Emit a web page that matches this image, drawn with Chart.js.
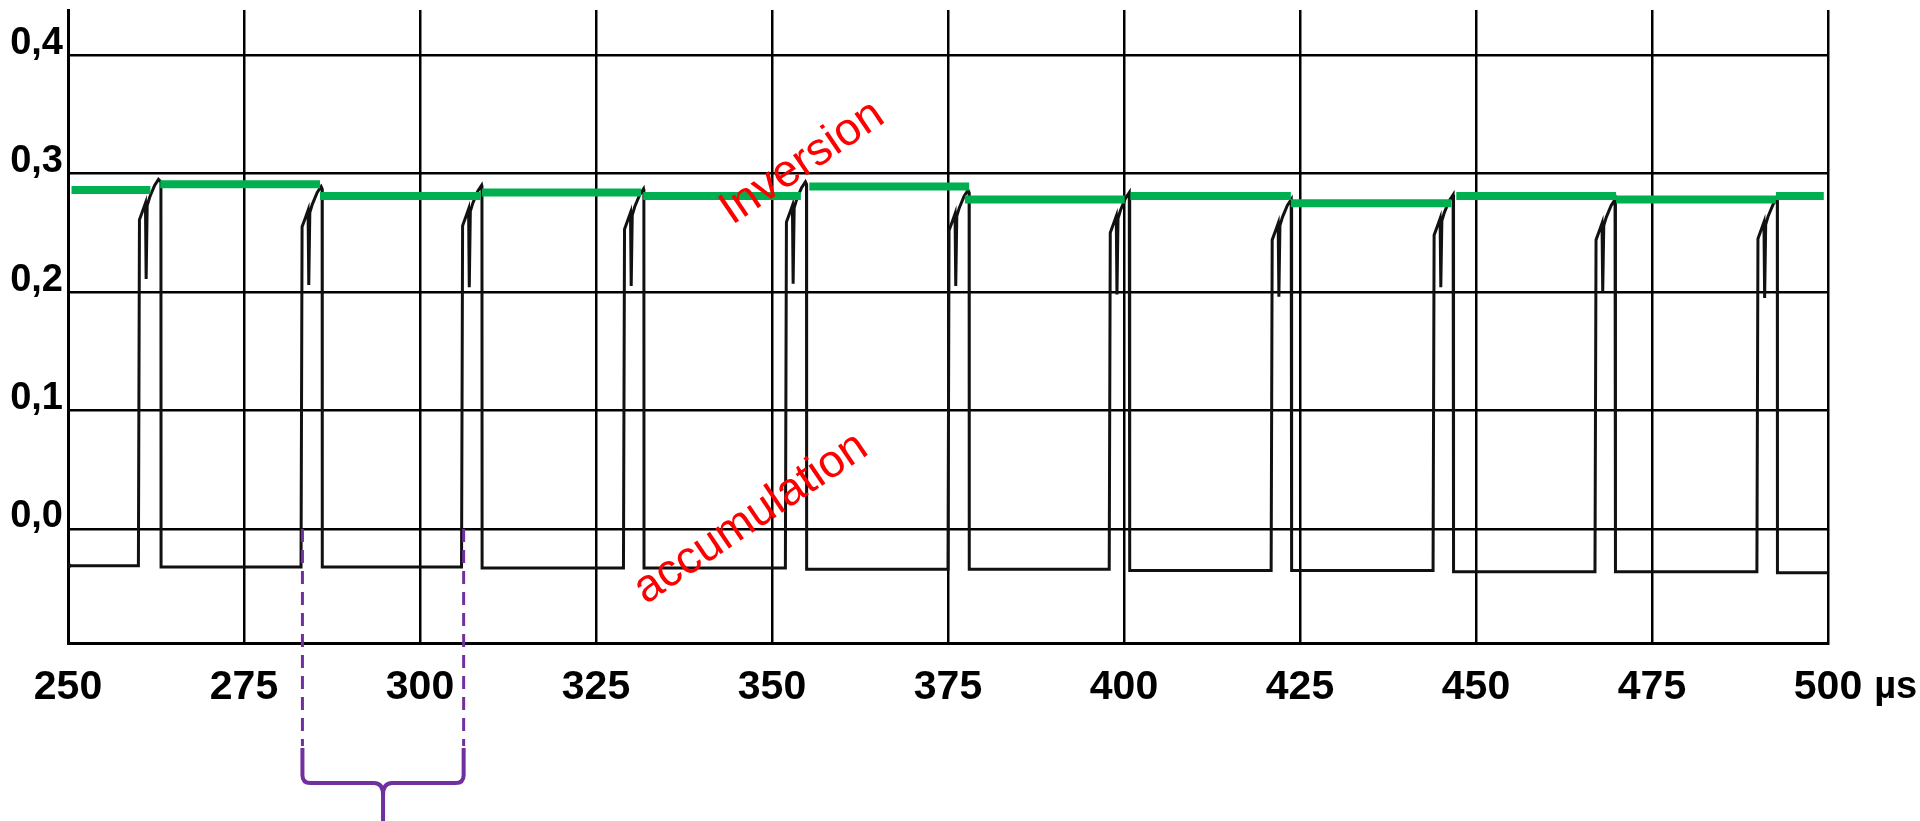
<!DOCTYPE html>
<html>
<head>
<meta charset="utf-8">
<script src="https://cdn.jsdelivr.net/npm/chart.js@4.4.0/dist/chart.umd.min.js"></script>
<style>
  html, body { margin: 0; padding: 0; background: #ffffff; }
  #wrap { width: 1920px; height: 821px; }
</style>
</head>
<body>
<div id="wrap"><canvas id="c" width="1920" height="821"></canvas></div>
<script>
// ---- data ----
const xTicks = [250, 275, 300, 325, 350, 375, 400, 425, 450, 475, 500];
const xTickLabels = ['250', '275', '300', '325', '350', '375', '400', '425', '450', '475', '500'];
const xUnit = 'µs';
const yTicks = [0, 0.1, 0.2, 0.3, 0.4];
const yTickLabels = ['0,0', '0,1', '0,2', '0,3', '0,4'];
const xMin = 250, xMax = 500;
const yMin = -0.0962, yMax = 0.438;

// pulse edges (µs)
const riseTimes = [260.0, 283.1, 305.9, 328.9, 351.9, 375.0, 397.9, 420.9, 443.9, 466.9, 489.9];
const fallTimes = [263.2, 286.1, 308.8, 331.8, 354.9, 378.0, 400.8, 423.8, 446.8, 469.8, 492.8];
// peak level of each pulse
const peakValues = [0.295, 0.289, 0.290, 0.287, 0.293, 0.286, 0.284, 0.278, 0.282, 0.278, 0.279];
// bottom of the small hook on the rising flank
const hookValues = [0.211, 0.206, 0.204, 0.205, 0.207, 0.205, 0.198, 0.196, 0.204, 0.200, 0.195];
// accumulation (low) level before each pulse and after the last one
const lowLevels = [-0.031, -0.032, -0.032, -0.033, -0.033, -0.034, -0.034, -0.035, -0.035, -0.036, -0.036, -0.037];
// shape of the rising flank read from one pulse: time after rise (µs) and drop below the peak
const flankTimes = [0.15, 0.7, 1.0, 1.1, 1.25, 1.6, 2.3, 2.85];
const flankDrops = [0.034, 0.025, 0.020, null, 0.022, 0.015, 0.005, 0.0];

// green inversion-level markers
const greenStart = [250.5, 263.1, 285.8, 308.8, 331.7, 355.3, 377.4, 400.9, 423.7, 447.2, 469.9, 492.6];
const greenEnd   = [261.7, 285.8, 308.6, 331.4, 354.1, 378.0, 400.1, 423.7, 446.5, 469.9, 492.6, 499.4];
const greenValue = [0.286, 0.291, 0.281, 0.284, 0.281, 0.289, 0.278, 0.281, 0.275, 0.281, 0.278, 0.281];

// annotations
const labelInversion = { text: 'Inversion', x: 354.3, y: 0.309 };
const labelAccumulation = { text: 'accumulation', x: 347.0, y: 0.009 };
const braceFrom = 283.3, braceTo = 306.2;

// ---- build datasets ----
const trace = [{ x: xMin, y: lowLevels[0] }];
for (let i = 0; i < riseTimes.length; i++) {
  const r = riseTimes[i], f = fallTimes[i], p = peakValues[i];
  trace.push({ x: r, y: lowLevels[i] });
  for (let k = 0; k < flankTimes.length; k++) {
    const yv = flankDrops[k] === null ? hookValues[i] : p - flankDrops[k];
    trace.push({ x: r + flankTimes[k], y: yv });
  }
  trace.push({ x: f, y: p - 0.002 });
  trace.push({ x: f + 0.02, y: lowLevels[i + 1] });
}
trace.push({ x: xMax, y: lowLevels[lowLevels.length - 1] });

const green = [];
for (let i = 0; i < greenStart.length; i++) {
  green.push({ x: greenStart[i], y: greenValue[i] });
  green.push({ x: greenEnd[i], y: greenValue[i] });
  green.push({ x: greenEnd[i] + 0.01, y: null });
}

const X_FONT = 41, X_PAD = 20;
const X_FAMILY = '"Liberation Sans", Arial, sans-serif';

const annotPlugin = {
  id: 'annot',
  afterDraw(chart) {
    const { ctx, scales: { x, y } } = chart;
    ctx.save();
    // unit after the last tick label
    ctx.font = 'bold ' + X_FONT + 'px ' + X_FAMILY;
    ctx.fillStyle = '#000';
    ctx.textBaseline = 'middle';
    ctx.textAlign = 'left';
    const lastPx = x.getPixelForValue(xMax);
    const w = ctx.measureText(xTickLabels[xTickLabels.length - 1]).width;
    const labelY = x.top + X_PAD + X_FONT * 1.2 / 2;
    ctx.font = 'bold 38px ' + X_FAMILY;
    ctx.fillText(xUnit, lastPx + w / 2 + 12, labelY);

    // red rotated labels
    ctx.fillStyle = '#FF0000';
    ctx.font = '46px "Liberation Sans", Arial, sans-serif';
    ctx.textAlign = 'center';
    ctx.textBaseline = 'middle';
    [labelInversion, labelAccumulation].forEach(l => {
      ctx.save();
      ctx.translate(x.getPixelForValue(l.x), y.getPixelForValue(l.y));
      ctx.rotate(-34 * Math.PI / 180);
      ctx.fillText(l.text, 0, 0);
      ctx.restore();
    });

    // purple dashed lines and brace
    const b1 = x.getPixelForValue(braceFrom), b2 = x.getPixelForValue(braceTo);
    const mid = (b1 + b2) / 2;
    const yTop = y.getPixelForValue(0);
    const dashEnd = 746, braceY = 783, bottom = chart.height;
    ctx.strokeStyle = '#7030A0';
    ctx.lineWidth = 3;
    ctx.setLineDash([13, 8]);
    ctx.beginPath();
    ctx.moveTo(b1, yTop); ctx.lineTo(b1, dashEnd);
    ctx.moveTo(b2, yTop); ctx.lineTo(b2, dashEnd);
    ctx.stroke();
    ctx.setLineDash([]);
    ctx.lineWidth = 4;
    ctx.lineJoin = 'round';
    ctx.beginPath();
    ctx.moveTo(b1, 748);
    ctx.lineTo(b1, braceY - 8);
    ctx.quadraticCurveTo(b1, braceY, b1 + 8, braceY);
    ctx.lineTo(mid - 9, braceY);
    ctx.quadraticCurveTo(mid, braceY, mid, braceY + 12);
    ctx.lineTo(mid, bottom);
    ctx.moveTo(b2, 748);
    ctx.lineTo(b2, braceY - 8);
    ctx.quadraticCurveTo(b2, braceY, b2 - 8, braceY);
    ctx.lineTo(mid + 9, braceY);
    ctx.quadraticCurveTo(mid, braceY, mid, braceY + 12);
    ctx.stroke();
    ctx.restore();
  }
};

new Chart(document.getElementById('c'), {
  type: 'line',
  data: {
    datasets: [
      { data: green, borderColor: '#00B050', borderWidth: 8, pointRadius: 0, borderCapStyle: 'butt', spanGaps: false, tension: 0, order: 0 },
      { data: trace, borderColor: '#111111', borderWidth: 3, tension: 0, order: 1,
        pointRadius: (c) => c.dataIndex === 0 ? 3 : 0, pointBackgroundColor: '#111', pointBorderWidth: 0 }
    ]
  },
  options: {
    responsive: false,
    animation: false,
    devicePixelRatio: 1,
    layout: { padding: { top: 10, right: 92, left: 0, bottom: 0 } },
    plugins: { legend: { display: false }, tooltip: { enabled: false } },
    scales: {
      x: {
        type: 'linear', min: xMin, max: xMax,
        afterBuildTicks: s => { s.ticks = xTicks.map(v => ({ value: v })); },
        afterFit: s => { s.height = 178; s.paddingLeft = 0; s.paddingRight = 0; },
        grid: { color: '#000', lineWidth: 2.5, drawTicks: false },
        border: { display: true, color: '#000', width: 3 },
        ticks: {
          autoSkip: false, maxRotation: 0, padding: X_PAD, color: '#000',
          font: { family: X_FAMILY, size: X_FONT, weight: 'bold' },
          callback: (v) => { const i = xTicks.indexOf(v); return i >= 0 ? xTickLabels[i] : ''; }
        }
      },
      y: {
        type: 'linear', min: yMin, max: yMax,
        afterBuildTicks: s => { s.ticks = yTicks.map(v => ({ value: v })); },
        afterFit: s => { s.width = 68; s.paddingTop = 0; s.paddingBottom = 0; },
        grid: { color: '#000', lineWidth: 2.5, drawTicks: false },
        border: { display: true, color: '#000', width: 3 },
        ticks: {
          padding: 5, labelOffset: -12, color: '#000',
          font: { family: '"Liberation Sans", Arial, sans-serif', size: 38, weight: 'bold' },
          callback: (v) => { const i = yTicks.findIndex(t => Math.abs(t - v) < 1e-9); return i >= 0 ? yTickLabels[i] : ''; }
        }
      }
    }
  },
  plugins: [annotPlugin]
});
</script>
</body>
</html>
